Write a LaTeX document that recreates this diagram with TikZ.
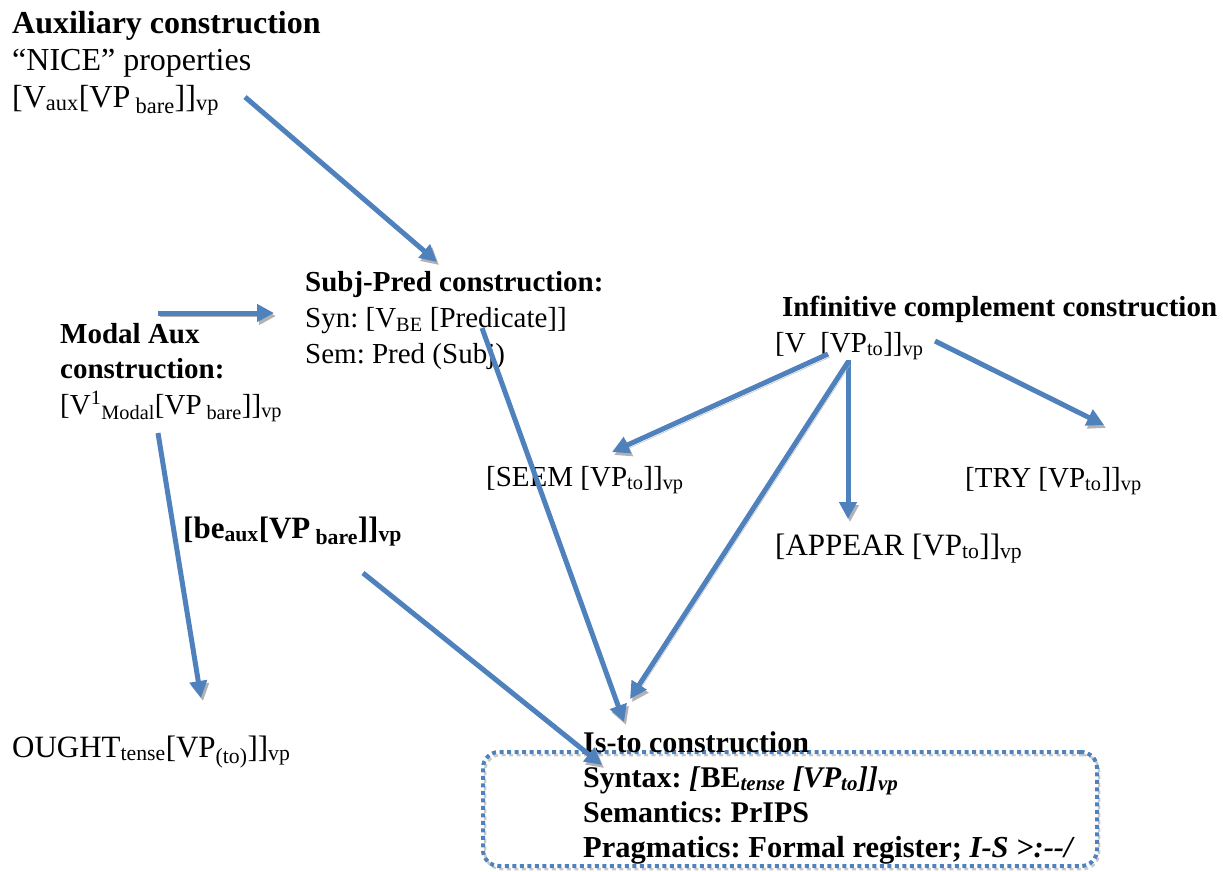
\documentclass[tikz,border=0pt]{standalone}
\usepackage{fontspec}
\setmainfont{Liberation Serif}
\usetikzlibrary{arrows.meta}
\definecolor{arrowblue}{RGB}{79,129,189}
\definecolor{shadowgray}{RGB}{178,178,178}
\begin{document}
\frenchspacing
\begin{tikzpicture}[x=1pt,y=-1pt,
  txt/.style={anchor=base west, inner sep=0pt, font=\fontsize{#1}{36}\selectfont},
  txt/.default=29,
  btxt/.style={anchor=base west, inner sep=0pt, font=\fontsize{#1}{36}\selectfont\bfseries},
  btxt/.default=29,
  link/.style={draw=arrowblue, line width=5pt, -{Triangle[length=17pt,width=17pt]},
     preaction={draw=shadowgray, transform canvas={shift={(2pt,-3pt)}}}},
  isbox/.style={draw=arrowblue, line width=4pt, dash pattern=on 4pt off 3.5pt,
     rounded corners=16pt, minimum width=614pt, minimum height=114pt, inner sep=0pt,
     preaction={draw=shadowgray!70, line width=2.5pt, transform canvas={shift={(2pt,-3pt)}}}}]
\useasboundingbox (0,0) rectangle (1223,871);

% dotted box
\node[isbox] (box) at (790,809) {};

% texts
\node[btxt=32] (aux1) at (12,33) {Auxiliary construction};
\node[txt=32] (aux2) at (12,70) {“NICE” properties};
\node[txt=32] (aux3) at (12,107) {[V\textsubscript{aux}[VP\,\textsubscript{bare}]]\textsubscript{vp}};

\node[btxt] (subj1) at (305,291) {Subj-Pred construction:};
\node[txt] (subj2) at (305,327) {Syn: [V\textsubscript{BE} [Predicate]]};
\node[txt] (subj3) at (305,363) {Sem: Pred (Subj)};

\node[btxt] (modal1) at (60,343) {Modal Aux};
\node[btxt] (modal2) at (60,378) {construction:};
\node[txt] (modal3) at (60,414) {[V\textsuperscript{1}\textsubscript{Modal}[VP\,\textsubscript{bare}]]\textsubscript{vp}};

\node[btxt] (inf1) at (782,316) {Infinitive complement construction};
\node[txt] (inf2) at (775,352) {[V\ \ [VP\textsubscript{to}]]\textsubscript{vp}};

\node[txt] (seem) at (486,486) {[SEEM [VP\textsubscript{to}]]\textsubscript{vp}};
\node[txt] (try) at (965,487) {[TRY [VP\textsubscript{to}]]\textsubscript{vp}};
\node[txt=31] (appear) at (775,555) {[APPEAR [VP\textsubscript{to}]]\textsubscript{vp}};

\node[btxt=31] (beaux) at (183,538) {[be\textsubscript{aux}[VP\,\textsubscript{bare}]]\textsubscript{vp}};
\node[txt=31] (ought) at (12,757) {OUGHT\textsubscript{tense}[VP\textsubscript{(to)}]]\textsubscript{vp}};

\node[btxt=30] (isto1) at (583,752) {Is-to construction};
\node[btxt=30] (isto2) at (583,787) {Syntax: \textit{[}BE\textit{\textsubscript{tense} [VP\textsubscript{to}]]\textsubscript{vp}}};
\node[btxt=30] (isto3) at (583,822) {Semantics: PrIPS};
\node[btxt=30.5] (isto4) at (583,857) {Pragmatics: Formal register; \textit{I-S >:{-}{-}/}};

% arrow end points
\coordinate (a1s) at (245,97);   \coordinate (a1e) at (437,262);
\coordinate (a2s) at (158,313);  \coordinate (a2e) at (274,313);
\coordinate (a3s) at (482,328);  \coordinate (a3e) at (624,722);
\coordinate (a4s) at (828,354);  \coordinate (a4e) at (612,452);
\coordinate (a5s) at (848,360);  \coordinate (a5e) at (848,519);
\coordinate (a6s) at (848,362);  \coordinate (a6e) at (630,699);
\coordinate (a7s) at (935,341);  \coordinate (a7e) at (1104,425);
\coordinate (a8s) at (158,433);  \coordinate (a8e) at (201,698);
\coordinate (a9s) at (363,573);  \coordinate (a9e) at (602,765);

\draw[link] (a1s) -- (a1e);
\draw[link] (a2s) -- (a2e);
\draw[link] (a3s) -- (a3e);
\draw[link] (a4s) -- (a4e);
\draw[link] (a5s) -- (a5e);
\draw[link] (a6s) -- (a6e);
\draw[link] (a7s) -- (a7e);
\draw[link] (a8s) -- (a8e);
\draw[link] (a9s) -- (a9e);
\end{tikzpicture}
\end{document}
